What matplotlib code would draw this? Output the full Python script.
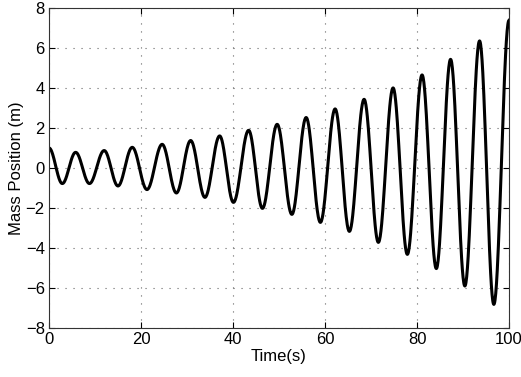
import numpy as np
import matplotlib
matplotlib.use('Agg')
import matplotlib.pyplot as plt

plt.rcParams['font.family'] = ['Liberation Sans', 'DejaVu Sans']

# extrema of the mass position (time s, position m)
ext_t = [0.0, 2.9, 5.8, 8.8, 12.0, 15.0, 18.1, 21.3, 24.6, 27.7, 30.8, 33.9,
         37.1, 40.1, 43.4, 46.4, 49.6, 52.8, 55.9, 59.0, 62.2, 65.3, 68.5,
         71.6, 74.8, 77.9, 81.1, 84.2, 87.3, 90.4, 93.6, 96.7, 100.0]
ext_x = [1.0, -0.78, 0.78, -0.78, 0.87, -0.9, 1.03, -1.08, 1.18, -1.25, 1.37,
         -1.47, 1.6, -1.72, 1.88, -2.02, 2.18, -2.32, 2.52, -2.72, 2.95, -3.17,
         3.43, -3.72, 4.0, -4.32, 4.65, -5.03, 5.43, -5.9, 6.35, -6.82, 7.38]

# half-cosine swing between consecutive extrema
t_all = []
x_all = []
for i in range(len(ext_t) - 1):
    s = np.linspace(0, 1, 40, endpoint=False)
    t_all.append(ext_t[i] + s * (ext_t[i + 1] - ext_t[i]))
    x_all.append(ext_x[i] + (ext_x[i + 1] - ext_x[i]) * (1 - np.cos(np.pi * s)) / 2)
t_all.append([ext_t[-1]])
x_all.append([ext_x[-1]])
t_all = np.concatenate(t_all)
x_all = np.concatenate(x_all)

fig = plt.figure(figsize=(5.21, 3.77), dpi=100)
ax = fig.add_axes([0.094, 0.130, 0.883, 0.849])
ax.plot(t_all, x_all, 'k-', lw=2.2)
ax.set_xlim(0, 100)
ax.set_ylim(-8, 8)
ax.set_xticks(range(0, 101, 20))
ax.set_yticks(range(-8, 9, 2))
ax.grid(True, linestyle=(0, (1, 6.2)), color='#666666', lw=0.8)
ax.tick_params(direction='in', top=True, right=True, labelsize=12, length=4, pad=3)
for sp in ax.spines.values():
    sp.set_linewidth(0.8)
    sp.set_color('#333333')
ax.set_xlabel('Time(s)', fontsize=12, labelpad=1)
ax.set_ylabel('Mass Position (m)', fontsize=12, labelpad=1)
plt.savefig('out.png', dpi=100)
